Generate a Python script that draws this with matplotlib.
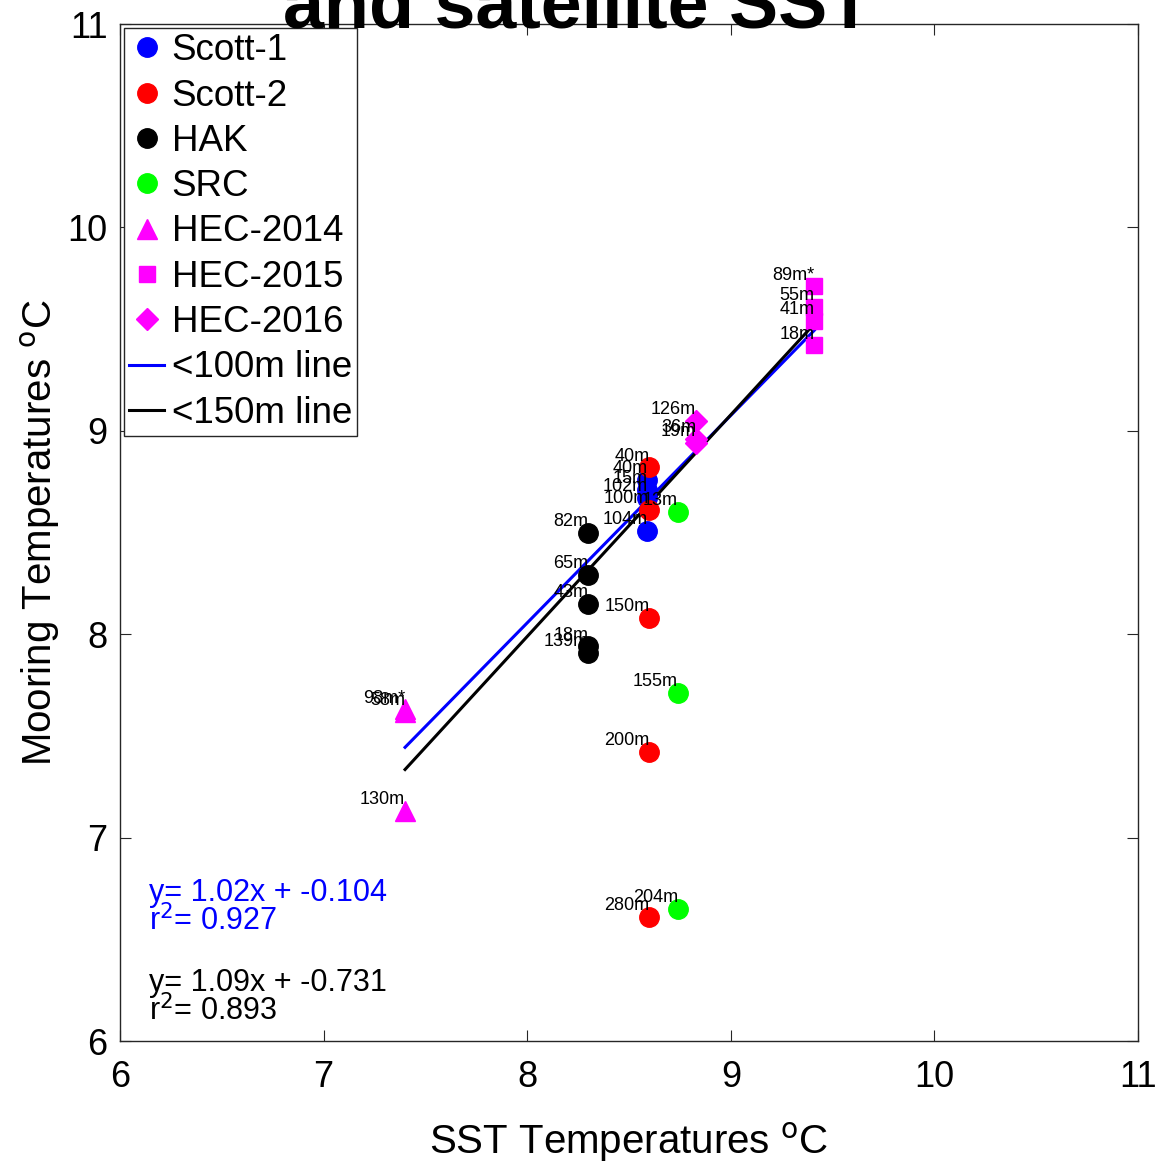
import matplotlib
matplotlib.use("Agg")
import matplotlib.pyplot as plt
import numpy as np

plt.rcParams['font.family'] = ['Liberation Sans', 'DejaVu Sans']

# mooring temperature vs satellite SST, one group per mooring
scott1_x = [8.59, 8.59, 8.59, 8.59]
scott1_y = [8.76, 8.71, 8.67, 8.51]
scott1_lab = ['40m', '15m', '102m', '104m']

scott2_x = [8.60, 8.60, 8.60, 8.60, 8.60]
scott2_y = [8.82, 8.61, 8.08, 7.42, 6.61]
scott2_lab = ['40m', '100m', '150m', '200m', '280m']

hak_x = [8.30, 8.30, 8.30, 8.30, 8.30]
hak_y = [8.50, 8.29, 8.15, 7.94, 7.91]
hak_lab = ['82m', '65m', '43m', '18m', '139m']

src_x = [8.74, 8.74, 8.74]
src_y = [8.60, 7.71, 6.65]
src_lab = ['13m', '155m', '204m']

hec14_x = [7.40, 7.40, 7.40]
hec14_y = [7.63, 7.62, 7.13]
hec14_lab = ['98m*', '58m', '130m']

hec15_x = [9.41, 9.41, 9.41, 9.41]
hec15_y = [9.71, 9.61, 9.54, 9.42]
hec15_lab = ['89m*', '55m', '41m', '18m']

hec16_x = [8.83, 8.83, 8.83]
hec16_y = [9.05, 8.96, 8.94]
hec16_lab = ['126m', '36m', '19m']

# fitted lines (slope, intercept, r^2)
fit100 = [1.02, -0.104, 0.927]
fit150 = [1.09, -0.731, 0.893]

fig = plt.figure(figsize=(11.55, 11.62), dpi=100)
ax = fig.add_axes([0.1039, 0.1041, 0.8814, 0.8752])

groups = [
    (scott1_x, scott1_y, scott1_lab, 'o', '#0000ff', 'Scott-1'),
    (scott2_x, scott2_y, scott2_lab, 'o', '#ff0000', 'Scott-2'),
    (hak_x, hak_y, hak_lab, 'o', '#000000', 'HAK'),
    (src_x, src_y, src_lab, 'o', '#00ff00', 'SRC'),
    (hec14_x, hec14_y, hec14_lab, '^', '#ff00ff', 'HEC-2014'),
    (hec15_x, hec15_y, hec15_lab, 's', '#ff00ff', 'HEC-2015'),
    (hec16_x, hec16_y, hec16_lab, 'D', '#ff00ff', 'HEC-2016'),
]

msize = {'o': 14, '^': 14, 's': 12, 'D': 11}
for gx, gy, glab, mk, col, name in groups:
    ax.plot(gx, gy, linestyle='none', marker=mk, markersize=msize[mk],
            color=col, label=name, zorder=3)
    for xx, yy, tt in zip(gx, gy, glab):
        ax.annotate(tt, (xx, yy), xytext=(0, 2), textcoords='offset points',
                    ha='right', va='bottom', fontsize=13, zorder=4)

all_x = scott1_x + scott2_x + hak_x + src_x + hec14_x + hec15_x + hec16_x
xl = np.array([min(all_x), max(all_x)])
ax.plot(xl, np.polyval(fit100[:2], xl), color='#0000ff', lw=2.2,
        label='<100m line', zorder=2)
ax.plot(xl, np.polyval(fit150[:2], xl), color='#000000', lw=2.2,
        label='<150m line', zorder=2)

ax.text(6.14, 6.546, 'y= %.2fx + %.3f\nr$^2$= %.3f' % tuple(fit100),
        color='#0000ff', fontsize=22, linespacing=0.85)
ax.text(6.14, 6.103, 'y= %.2fx + %.3f\nr$^2$= %.3f' % tuple(fit150),
        color='#000000', fontsize=22, linespacing=0.85)

ax.set_xlim(6, 11)
ax.set_ylim(6, 11)
ax.set_xticks(range(6, 12))
ax.set_yticks(range(6, 12))
ax.tick_params(direction='in', top=True, right=True, labelsize=26,
               length=8, color='#262626')
ax.tick_params(axis='x', pad=14)
ax.tick_params(axis='y', pad=9)
for sp in ax.spines.values():
    sp.set_color('#262626')
    sp.set_linewidth(1.0)

ax.set_xlabel('SST Temperatures $^{\\mathrm{o}}$C', fontsize=29, labelpad=18)
ax.set_ylabel('Mooring Temperatures $^{\\mathrm{o}}$C', fontsize=29, labelpad=4)

leg = ax.legend(loc='upper left', fontsize=26.5, borderaxespad=0.1,
                labelspacing=0.28, handlelength=0.95, handletextpad=0.2,
                borderpad=0.15, fancybox=False, framealpha=1,
                edgecolor='#262626', markerscale=1.0)
leg.get_frame().set_linewidth(1.0)

fig.text(0.5, 1 - 28 / 1162, 'and satellite SST', ha='center', va='baseline',
         fontsize=53, fontweight='bold', zorder=10)

fig.savefig('out.png', dpi=100, facecolor='white')
